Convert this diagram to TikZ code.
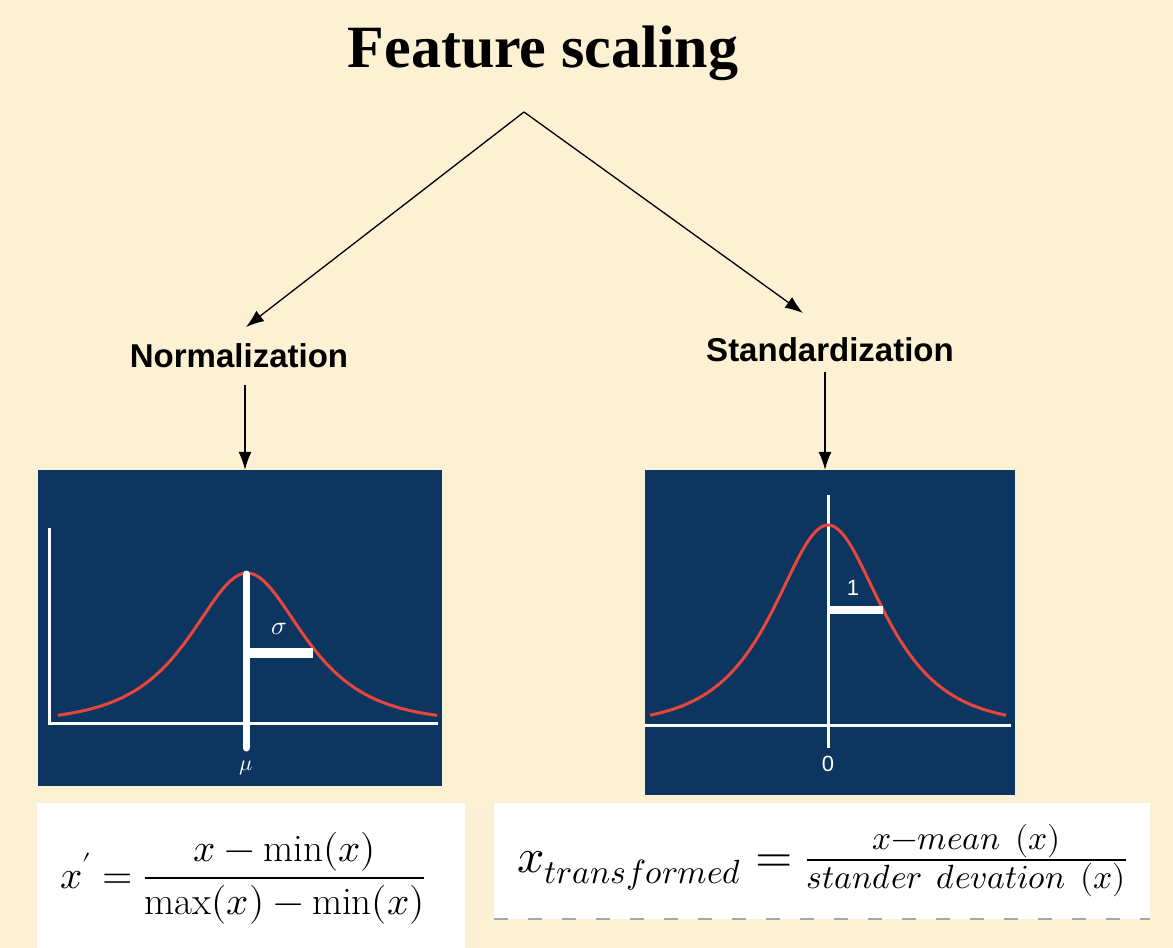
\documentclass[tikz,border=0pt]{standalone}
\usepackage{amsmath}
\usepackage{fontspec}
\usepackage{unicode-math}
\usepackage{tikz}
\usetikzlibrary{positioning, arrows.meta, calc}

\setmathfont{Latin Modern Math}
\newfontfamily\titlefont{Liberation Serif}
\newfontfamily\labelfont{Liberation Sans}

\definecolor{bgcream}{HTML}{FDF1D3}
\definecolor{panelblue}{HTML}{0C365F}
\definecolor{curvered}{HTML}{E8453C}

\begin{document}
\begin{tikzpicture}[x=1pt, y=-1pt,
    arr/.style={-{Latex[length=18pt, width=13pt]}, line width=1.3pt},
    panel/.style={fill=panelblue, inner sep=0pt},
    formbox/.style={fill=white, inner sep=0pt},
    axisline/.style={white, line width=3pt},
    bell/.style={curvered, line width=3pt, smooth, samples=80}]

    % Pozadi
    \fill[bgcream] (0,0) rectangle (1173,948);
    \useasboundingbox (0,0) rectangle (1173,948);

    % 1. Nadpis a dve vetve
    \node[anchor=base, inner sep=0pt, font=\titlefont\bfseries\fontsize{60}{72}\selectfont] (title) at (543,67) {Feature scaling};
    \coordinate (apex) at (524,112);
    \node[anchor=base, inner sep=0pt, font=\labelfont\bfseries\fontsize{33}{40}\selectfont] (norm) at (239,367) {Normalization};
    \node[anchor=base, inner sep=0pt, font=\labelfont\bfseries\fontsize{33}{40}\selectfont] (std) at (830,361) {Standardization};
    \coordinate (ntip) at (246,327);
    \coordinate (stip) at (803,313);

    \draw[arr] (apex) -- (ntip);
    \draw[arr] (apex) -- (stip);

    % 2. Panely s krivkami
    \node[panel, minimum width=404pt, minimum height=316pt] (lpanel) at (240,628) {};
    \node[panel, minimum width=370pt, minimum height=325pt] (rpanel) at (830,632.5) {};

    \draw[arr] ([xshift=6pt, yshift=-18pt]norm.base) -- ([xshift=6pt]norm.base |- lpanel.north);
    \draw[arr] ([xshift=-5pt, yshift=-11pt]std.base) -- ([xshift=-5pt]std.base |- rpanel.north);

    % leva krivka (normalizace)
    \draw[axisline] (49,528) -- (49,723) -- (438,723);
    \draw[bell] plot[domain=58:437] (\x, {722-149/cosh((\x-247)/50)});
    \draw[white, line width=7pt, line cap=round] (246,574) -- (246,748);
    \draw[white, line width=10pt] (249,653) -- (313,653);
    \node[white, font=\fontsize{26}{30}\selectfont] (sig) at (279,629) {$\sigma$};
    \node[white, font=\fontsize{22}{26}\selectfont] (mu) at (246,768) {$\mu$};

    % prava krivka (standardizace)
    \draw[axisline] (645,725) -- (1011,725);
    \draw[axisline] (828,495) -- (828,748);
    \draw[bell] plot[domain=650:1006] (\x, {725-200/cosh((\x-828)/48)});
    \draw[white, line width=8pt] (828,610) -- (883,610);
    \node[white, font=\labelfont\fontsize{22}{26}\selectfont] (one) at (853,588) {1};
    \node[white, font=\labelfont\fontsize{22}{26}\selectfont] (zero) at (828,764) {0};

    % 3. Vzorce
    \node[formbox, minimum width=428pt, minimum height=145pt] (lbox) at (251,875.5) {};
    \node[formbox, minimum width=656pt, minimum height=116pt] (rbox) at (822,861) {};
    \draw[gray!70, line width=2pt, dash pattern=on 14pt off 20pt] (rbox.south west) -- (rbox.south east);

    \node[anchor=base, inner sep=0pt, font=\fontsize{39}{46}\selectfont] (lform) at (243,888)
        {$x' = \dfrac{x-\min(x)}{\max(x)-\min(x)}$};
    \node[anchor=base, inner sep=0pt, font=\fontsize{48}{58}\selectfont] (rform) at (822,872)
        {$x_{transformed} = \frac{x-mean\ (x)}{stander\ devation\ (x)}$};

\end{tikzpicture}
\end{document}
